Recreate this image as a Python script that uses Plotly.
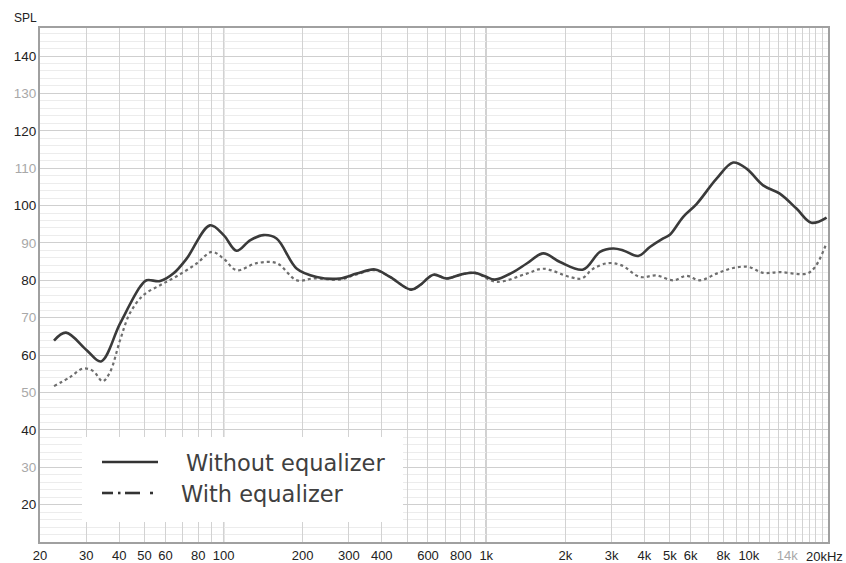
import numpy as np
import plotly.graph_objects as go

# Frequency response without equalizer
freq_no_eq = [22.6, 25.1, 30.1, 34.1, 40.3, 48.0, 50.9, 57.3, 64.3, 72.3, 88.7, 100, 112, 126, 141.6, 159,
              190, 226, 277, 321, 377, 430, 517, 559, 629, 706, 805, 905, 988, 1079, 1267, 1426, 1649,
              1909, 2340, 2709, 3043, 3325, 3790, 4198, 4719, 5003, 5624, 6319, 7534, 8715, 9799,
              11337, 13114, 15177, 17309, 19770]
spl_no_eq = [63.9, 66.0, 61.3, 58.3, 68.4, 78.2, 80.0, 79.8, 81.8, 85.8, 94.7, 92.1, 87.9, 90.7, 92.1, 91.2,
             83.1, 80.9, 80.5, 81.8, 82.9, 80.9, 77.5, 78.7, 81.5, 80.5, 81.6, 82.0, 81.1, 80.2, 82.2, 84.5, 87.2,
             84.9, 82.9, 87.6, 88.5, 88.0, 86.5, 88.9, 91.2, 92.2, 97.0, 100.4, 107.2, 111.5, 109.9,
             105.4, 103.2, 99.2, 95.4, 96.8]

# Frequency response with equalizer
freq_eq = [22.6, 26.0, 29.2, 31.9, 34.6, 36.9, 40.3, 43.9, 49.4, 57.3, 66.3, 78.9, 90.2, 100, 112, 133.6, 159,
           190, 219.6, 277, 321, 377, 430, 517, 559, 629, 706, 805, 905, 1096, 1426, 1649, 2080,
           2308, 2554, 2912, 3276, 3845, 4451, 5155, 5787, 6507, 7534, 8715, 9934, 11337, 13114,
           16626, 17880, 19770]
spl_eq = [51.7, 54.1, 56.4, 55.7, 53.0, 55.4, 63.9, 71.1, 76.0, 78.7, 81.1, 84.5, 87.6, 85.8, 82.7, 84.6, 84.6,
          80.0, 80.5, 80.2, 81.6, 82.7, 80.9, 77.5, 78.7, 81.5, 80.5, 81.6, 82.0, 79.6, 81.8, 83.1, 80.9,
          80.5, 83.1, 84.6, 84.0, 80.9, 81.3, 80.0, 81.2, 80.0, 81.8, 83.3, 83.6, 82.0, 82.2,
          81.8, 83.6, 90.0]

x_tick_vals = [20, 30, 40, 50, 60, 80, 100, 200, 300, 400, 600, 800, 1000, 2000, 3000, 4000,
               5000, 6000, 8000, 10000, 14000, 20000]
x_tick_labels = ["20", "30", "40", "50", "60", "80", "100", "200", "300", "400", "600", "800", "1k",
                 "2k", "3k", "4k", "5k", "6k", "8k", "10k", "14k", "20kHz"]
y_tick_vals = [20, 30, 40, 50, 60, 70, 80, 90, 100, 110, 120, 130, 140]
legend_labels = ["Without equalizer", "With equalizer"]

DARK = "#222222"
LIGHT = "#a8a8a8"

# vertical grid frequencies: every integer multiple per decade, plus 1k steps above 10k
grid_freqs = set()
for dec in [10, 100, 1000]:
    for m in range(1, 10):
        f = dec * m
        if 20 <= f <= 20000:
            grid_freqs.add(f)
for f in range(10000, 20001, 1000):
    grid_freqs.add(f)
grid_freqs = sorted(grid_freqs)

label_map = dict(zip(x_tick_vals, x_tick_labels))
last_label = x_tick_labels[-1]
xt_text = []
for f in grid_freqs:
    lab = label_map.get(f, "")
    if lab == "14k":
        lab = f"<span style='color:{LIGHT}'>{lab}</span>"
    if lab == last_label:
        lab = ""  # drawn as a right-aligned annotation so it stays inside the page
    xt_text.append(lab)

yt_text = []
for v in y_tick_vals:
    if (v // 10) % 2 == 1:
        yt_text.append(f"<span style='color:{LIGHT}'>{v}</span>")
    else:
        yt_text.append(str(v))

fig = go.Figure()
fig.add_trace(go.Scatter(x=freq_eq, y=spl_eq, mode="lines", name=legend_labels[1],
                         line=dict(color="#6e6e6e", width=2.2, dash="dot", shape="spline", smoothing=1.0)))
fig.add_trace(go.Scatter(x=freq_no_eq, y=spl_no_eq, mode="lines", name=legend_labels[0],
                         line=dict(color="#3a3a3a", width=2.6, shape="spline", smoothing=1.0)))

# page-coordinate plot box
L, R, T, B = 40, 828, 28, 542
W, H = 846, 563


def px(xp):
    return (xp - L) / (R - L)


def py(yp):
    return (B - yp) / (B - T)


shapes = []
for f in [100, 1000]:
    xpaper = np.log10(f / 20) / 3
    shapes.append(dict(type="line", xref="paper", yref="paper", x0=xpaper, x1=xpaper, y0=0, y1=1,
                       line=dict(color="#7a7a7a", width=1.2), layer="below"))
shapes.append(dict(type="rect", xref="paper", yref="paper", x0=px(82), x1=px(403), y0=py(522), y1=py(437),
                   fillcolor="white", line=dict(width=0), layer="above"))
shapes.append(dict(type="line", xref="paper", yref="paper", x0=px(102), x1=px(158), y0=py(462), y1=py(462),
                   line=dict(color="#333333", width=2.6), layer="above"))
for a, b in [(102, 113), (118, 120.5), (125, 140), (150, 153)]:
    shapes.append(dict(type="line", xref="paper", yref="paper", x0=px(a), x1=px(b), y0=py(493), y1=py(493),
                       line=dict(color="#333333", width=2.6), layer="above"))

annotations = [
    dict(text="SPL", xref="paper", yref="paper", x=px(12), y=py(18), xanchor="left", yanchor="middle",
         showarrow=False, font=dict(size=12, color="#222222", family="Liberation Sans, Arial")),
    dict(text=legend_labels[0], xref="paper", yref="paper", x=px(184), y=py(463), xanchor="left",
         yanchor="middle", showarrow=False, font=dict(size=22.5, color="#404040", family="DejaVu Sans")),
    dict(text=legend_labels[1], xref="paper", yref="paper", x=px(179), y=py(494), xanchor="left",
         yanchor="middle", showarrow=False, font=dict(size=22.5, color="#404040", family="DejaVu Sans")),
    dict(text=last_label, xref="paper", yref="paper", x=px(845), y=py(556), xanchor="right",
         yanchor="middle", showarrow=False, font=dict(size=13, color=DARK, family="Liberation Sans, Arial")),
]

fig.update_layout(
    width=W, height=H,
    margin=dict(l=L, r=W - R, t=T, b=H - B, pad=0, autoexpand=False),
    paper_bgcolor="white", plot_bgcolor="white",
    showlegend=False,
    font=dict(family="Liberation Sans, Arial", size=13, color=DARK),
    shapes=shapes,
    annotations=annotations,
    xaxis=dict(type="log", range=[np.log10(20) - 0.0003, np.log10(20000) + 0.0003],
               tickvals=grid_freqs, ticktext=xt_text, ticks="", automargin=False,
               ticklabeloverflow="allow",
               showgrid=True, gridcolor="#d2d2d2", gridwidth=1,
               showline=True, linecolor="#a0a0a0", linewidth=2, mirror=True,
               zeroline=False, tickfont=dict(size=13, color=DARK)),
    yaxis=dict(range=[10, 147.5], tickvals=y_tick_vals, ticktext=yt_text, ticks="", automargin=False,
               showgrid=True, gridcolor="#cfcfcf", gridwidth=1,
               minor=dict(dtick=2, tick0=0, showgrid=True, gridcolor="#ececec", gridwidth=1),
               showline=True, linecolor="#a0a0a0", linewidth=2, mirror=True,
               zeroline=False, tickfont=dict(size=13.5, color=DARK), ticklabelstandoff=-1),
)

fig.write_html("out.html", config={"displayModeBar": False},
               post_script="document.body.style.margin='0';document.body.style.overflow='hidden';")
